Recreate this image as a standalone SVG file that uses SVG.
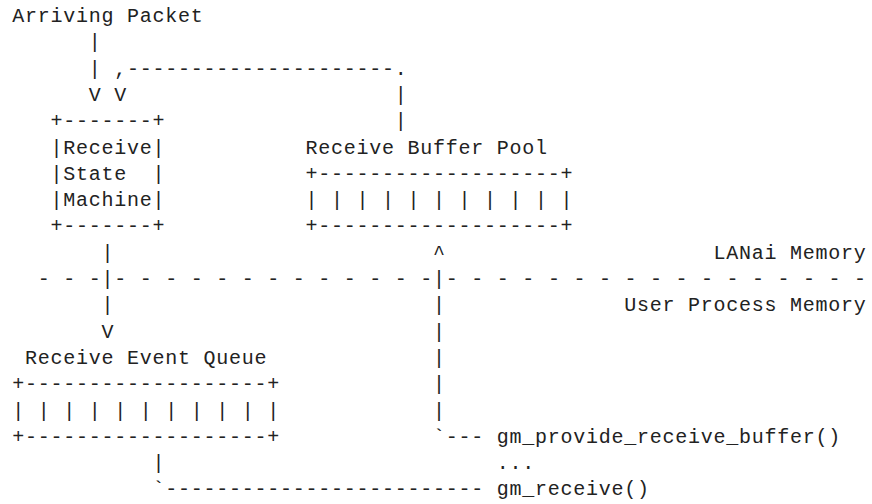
<svg xmlns="http://www.w3.org/2000/svg" width="872" height="504" viewBox="0 0 872 504" xml:space="preserve">
<style>
.t { font-family: "Liberation Mono", "DejaVu Sans Mono", monospace; font-size: 20px; letter-spacing: 0.75px; fill: #222; white-space: pre; }
</style>
<rect x="0" y="0" width="872" height="504" fill="#ffffff"/>
<g id="arriving-packet">
<text class="t" x="12.3" y="22">Arriving Packet</text>
</g>
<g id="receive-state-machine">
<text class="t" x="50.55" y="127.2">+-------+</text>
<text class="t" x="50.55" y="153.5">|Receive|</text>
<text class="t" x="50.55" y="179.8">|State  |</text>
<text class="t" x="50.55" y="206.1">|Machine|</text>
<text class="t" x="50.55" y="232.4">+-------+</text>
</g>
<g id="receive-buffer-pool">
<text class="t" x="305.55" y="153.5">Receive Buffer Pool</text>
<text class="t" x="305.55" y="179.8">+-------------------+</text>
<text class="t" x="305.55" y="206.1">| | | | | | | | | | |</text>
<text class="t" x="305.55" y="232.4">+-------------------+</text>
</g>
<g id="lanai-memory">
<text class="t" x="713.55" y="258.7">LANai Memory</text>
</g>
<g id="user-process-memory">
<text class="t" x="624.3" y="311.3">User Process Memory</text>
</g>
<g id="receive-event-queue">
<text class="t" x="25.05" y="363.9">Receive Event Queue</text>
<text class="t" x="12.3" y="390.2">+-------------------+</text>
<text class="t" x="12.3" y="416.5">| | | | | | | | | | |</text>
<text class="t" x="12.3" y="442.8">+-------------------+</text>
</g>
<g id="gm-provide-receive-buffer">
<text class="t" x="496.8" y="442.8">gm_provide_receive_buffer()</text>
</g>
<g id="ellipsis">
<text class="t" x="496.8" y="469.1">...</text>
</g>
<g id="gm-receive">
<text class="t" x="496.8" y="495.4">gm_receive()</text>
</g>
<g id="connectors">
<text class="t" x="88.8" y="48.3">|</text>
<text class="t" x="88.8" y="74.6">| ,---------------------.</text>
<text class="t" x="88.8" y="100.9">V V</text>
<text class="t" x="394.8" y="100.9">|</text>
<text class="t" x="394.8" y="127.2">|</text>
<text class="t" x="101.55" y="258.7">|</text>
<text class="t" x="433.05" y="258.7">^</text>
<text class="t" x="37.8" y="285">- - -|- - - - - - - - - - - - -|- - - - - - - - - - - - - - - - -</text>
<text class="t" x="101.55" y="311.3">|</text>
<text class="t" x="433.05" y="311.3">|</text>
<text class="t" x="101.55" y="337.6">V</text>
<text class="t" x="433.05" y="337.6">|</text>
<text class="t" x="433.05" y="363.9">|</text>
<text class="t" x="433.05" y="390.2">|</text>
<text class="t" x="433.05" y="416.5">|</text>
<text class="t" x="433.05" y="442.8">`---</text>
<text class="t" x="152.55" y="469.1">|</text>
<text class="t" x="152.55" y="495.4">`-------------------------</text>
</g>
</svg>
